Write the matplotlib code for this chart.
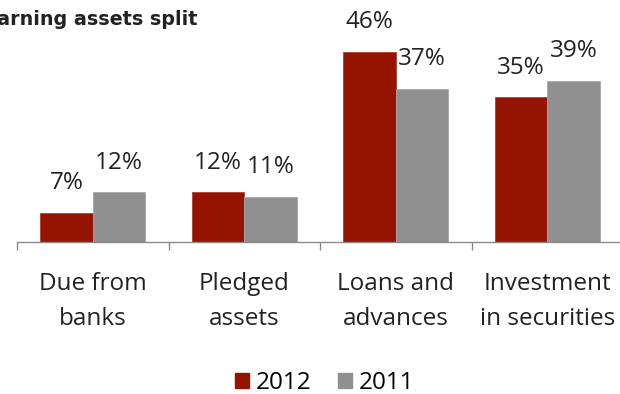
import numpy as np
import matplotlib.pyplot as plt
from matplotlib.patches import Patch

categories = ["Due from\nbanks", "Pledged\nassets", "Loans and\nadvances", "Investment\nin securities"]
share_2012 = [7, 12, 46, 35]
share_2011 = [12, 11, 37, 39]

red = "#951400"
grey = "#909090"

plt.rcParams['font.family'] = ['Open Sans', 'DejaVu Sans']

fig = plt.figure(figsize=(6.2, 3.94), dpi=100)
ax = fig.add_axes([17 / 620, 1 - 242 / 394, 606 / 620, 206.5 / 394])

x = np.arange(len(categories))
w = 0.347
b1 = ax.bar(x - w / 2, share_2012, w, color=red, edgecolor="#b04030", linewidth=0.6)
b2 = ax.bar(x + w / 2, share_2011, w, color=grey, edgecolor="#a8a8a8", linewidth=0.6)

for bars, vals in ((b1, share_2012), (b2, share_2011)):
    for bar, v in zip(bars, vals):
        ax.annotate(f"{v}%", (bar.get_x() + bar.get_width() / 2, v),
                    xytext=(0, 21.5), textcoords="offset points",
                    ha="center", va="center", fontsize=17.5, color="#222222")

ax.set_xlim(-0.5, 3.5)
ax.set_ylim(0, 50)
for s in ("top", "right", "left"):
    ax.spines[s].set_visible(False)
ax.spines["bottom"].set_color("#8a8a8a")
ax.spines["bottom"].set_linewidth(1.0)
ax.set_yticks([])

# group separators as ticks on the category axis
ax.set_xticks(np.arange(-0.5, 4, 1))
ax.set_xticklabels([])
ax.tick_params(axis="x", direction="out", length=6, color="#8a8a8a", width=1)
for i, c in enumerate(categories):
    ax.text(i, -14.5, c, ha="center", va="center", fontsize=17.5,
            color="#222222", linespacing=1.6)

fig.text(-0.025, 0.951, "Earning assets split", fontsize=13.8, fontweight="bold",
         family=["DejaVu Sans"], ha="left", va="center", color="#222222")

fig.legend(handles=[Patch(color=red, label="2012"), Patch(color=grey, label="2011")],
           loc="center", bbox_to_anchor=(325 / 620, 1 - 383 / 394), ncol=2,
           frameon=False, fontsize=17.5, handlelength=0.55, handleheight=0.55,
           handletextpad=0.3, columnspacing=1.1)

fig.savefig("out.png", dpi=100)
